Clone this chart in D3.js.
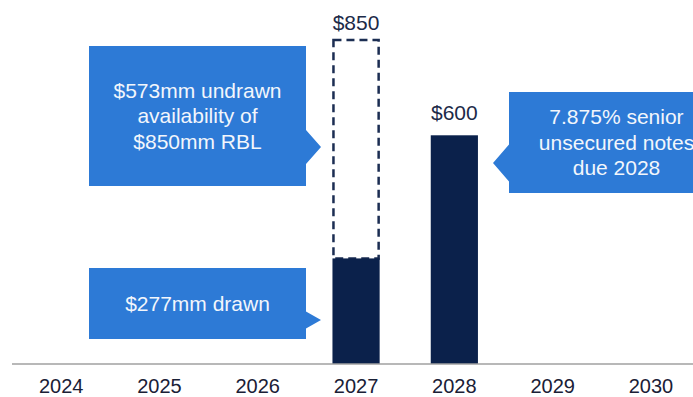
<!DOCTYPE html>
<html>
<head>
<meta charset="utf-8">
<script src="https://cdn.jsdelivr.net/npm/d3@7/dist/d3.min.js"></script>
<style>
  html, body { margin: 0; padding: 0; background: #fff; }
  svg { display: block; font-family: "Liberation Sans", Arial, sans-serif; }
</style>
</head>
<body>
<svg id="chart" width="693" height="397"></svg>
<script>
// ---- data ----
const years = ["2024", "2025", "2026", "2027", "2028", "2029", "2030"];
const drawn = [0, 0, 0, 277, 600, 0, 0];           // solid bars ($mm)
const facility = [null, null, null, 850, null, null, null]; // dashed RBL capacity
const valueLabels = [
  { year: "2027", value: 850, text: "$850", offset: 10 },
  { year: "2028", value: 600, text: "$600", offset: 15 }
];
const callouts = [
  { lines: ["$573mm undrawn", "availability of", "$850mm RBL"], year: "2027", side: "left",
    box: [89, 46, 217, 140], tipY: 147, half: 17 },
  { lines: ["$277mm drawn"], year: "2027", side: "left",
    box: [89, 268, 217, 71], tipY: 320, half: 8.5 },
  { lines: ["7.875% senior", "unsecured notes", "due 2028"], year: "2028", side: "right",
    box: [509, 92, 215, 101], tipY: 163, half: 18.5 }
];

const svg = d3.select("#chart");
const navy = "#0b214b";
const blue = "#2d7ad6";

const x = d3.scaleBand().domain(years).range([12, 12 + 7 * 98.3]).paddingInner(0.52).paddingOuter(0.26);
const y = d3.scaleLinear().domain([0, 850]).range([364, 40]);

// dashed facility outline
years.forEach((yr, i) => {
  if (facility[i] == null) return;
  svg.append("rect")
    .attr("x", x(yr) + 1).attr("y", y(facility[i]))
    .attr("width", x.bandwidth() - 2).attr("height", y(drawn[i]) - y(facility[i]))
    .attr("fill", "none").attr("stroke", "#1b2d52").attr("stroke-width", 2.5)
    .attr("stroke-dasharray", "8,5");
});

// solid bars
svg.selectAll("rect.bar").data(years.map((yr, i) => ({ yr, v: drawn[i] })).filter(d => d.v > 0))
  .enter().append("rect").attr("class", "bar")
  .attr("x", d => x(d.yr)).attr("y", d => y(d.v))
  .attr("width", x.bandwidth()).attr("height", d => y(0) - y(d.v))
  .attr("fill", navy);

// axis
const axis = d3.axisBottom(x).tickSize(0).tickPadding(0);
const gAxis = svg.append("g").attr("transform", `translate(0,${y(0)})`).call(axis);
gAxis.select(".domain").attr("d", "M12,0H693").attr("stroke", "#a0a0a0").attr("stroke-width", 1.6);
gAxis.selectAll(".tick text")
  .attr("y", 28.5).attr("dy", 0)
  .attr("font-size", 20).attr("fill", "#1a2036")
  .attr("font-family", "Liberation Sans, Arial, sans-serif");

// value labels
svg.selectAll("text.val").data(valueLabels).enter().append("text").attr("class", "val")
  .attr("x", d => x(d.year) + x.bandwidth() / 2)
  .attr("y", d => y(d.value) - d.offset)
  .attr("text-anchor", "middle").attr("font-size", 21).attr("fill", "#1c2a48")
  .text(d => d.text);

// callouts
callouts.forEach(c => {
  const [bx, by, bw, bh] = c.box;
  let path;
  if (c.side === "left") {
    const r = bx + bw, tip = r + 15;
    path = `M${bx},${by}H${r}V${c.tipY - c.half}L${tip},${c.tipY}L${r},${c.tipY + c.half}V${by + bh}H${bx}Z`;
  } else {
    const tip = bx - 16;
    path = `M${bx},${by}H${bx + bw}V${by + bh}H${bx}V${c.tipY + c.half}L${tip},${c.tipY}L${bx},${c.tipY - c.half}Z`;
  }
  svg.append("path").attr("d", path).attr("fill", blue);
  const cx = bx + bw / 2;
  const lh = 25.5;
  const cy = by + bh / 2;
  const t = svg.append("text").attr("text-anchor", "middle").attr("font-size", 21).attr("fill", "#f2f6fc");
  c.lines.forEach((ln, i) => {
    t.append("tspan").attr("x", cx)
      .attr("y", cy + (i - (c.lines.length - 1) / 2) * lh + 7)
      .text(ln);
  });
});
</script>
</body>
</html>
